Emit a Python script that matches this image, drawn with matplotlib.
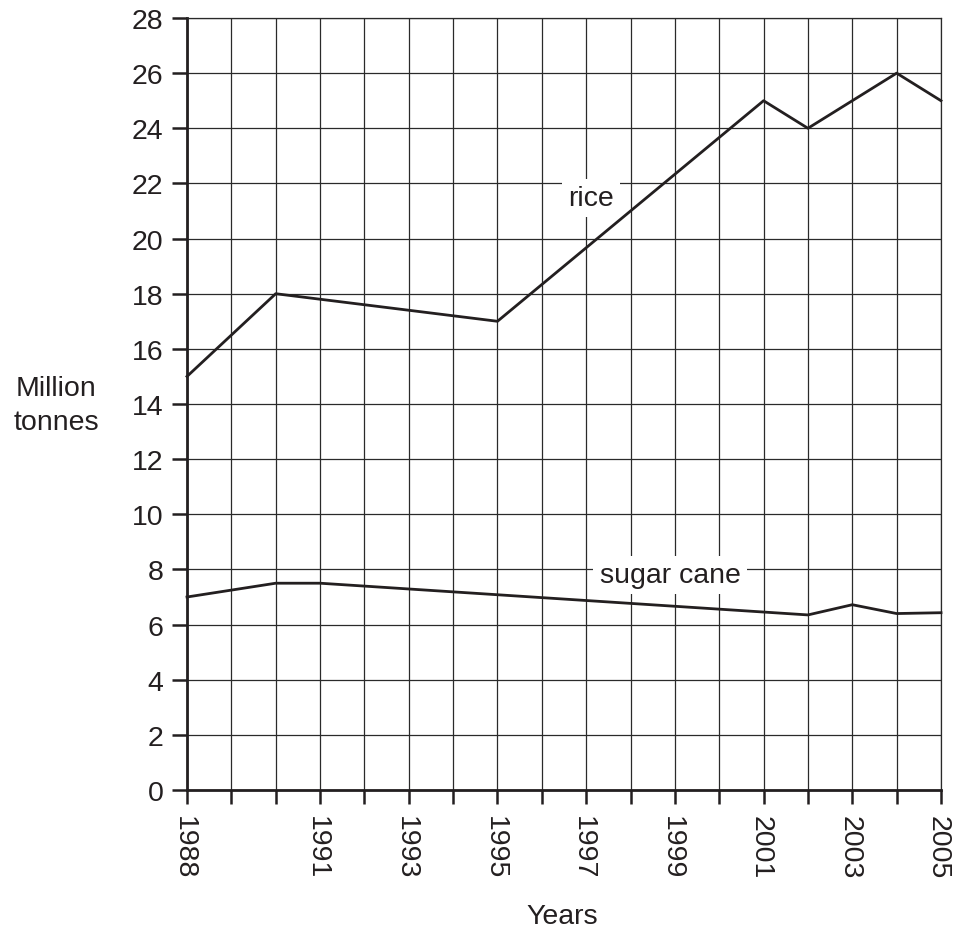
import numpy as np
import matplotlib
matplotlib.use('Agg')
import matplotlib.pyplot as plt
import matplotlib.transforms as mtransforms

plt.rcParams['font.family'] = ['Liberation Sans', 'DejaVu Sans']

# ── Data ──
years = list(range(1988, 2006))
labelled_years = [1988, 1991, 1993, 1995, 1997, 1999, 2001, 2003, 2005]

rice_years = [1988, 1990, 1995, 2001, 2002, 2003, 2004, 2005]
rice_values = [15, 18, 17, 25, 24, 25, 26, 25]

sugar_years = [1988, 1990, 1991, 2002, 2003, 2004, 2005]
sugar_values = [7.0, 7.5, 7.5, 6.35, 6.72, 6.4, 6.43]

y_ticks = list(range(0, 29, 2))

ink = '#231f20'
grid_col = '#2a2a2a'
fs = 20.5

fig = plt.figure(figsize=(9.59, 9.29), dpi=100)
ax = fig.add_axes([187 / 959, 1 - 791 / 929, (941 - 187) / 959, (791 - 19) / 929])

ax.plot(rice_years, rice_values, color=ink, linewidth=2.0, zorder=3, clip_on=False)
ax.plot(sugar_years, sugar_values, color=ink, linewidth=2.0, zorder=3, clip_on=False)

ax.set_xlim(1988, 2005)
ax.set_ylim(0, 28)
ax.set_xticks(years)
ax.set_xticklabels([str(y) if y in labelled_years else '' for y in years],
                   rotation=270, fontsize=fs, color=ink)
ax.set_yticks(y_ticks)
ax.set_yticklabels([str(v) for v in y_ticks], fontsize=fs, color=ink)
ax.tick_params(axis='x', length=10, width=1.8, pad=8, color=ink)
ax.tick_params(axis='y', length=11, width=1.8, pad=6, color=ink)

# rotated labels carry the font descent on their left side: nudge them back onto the tick
shift = mtransforms.ScaledTranslation(-3 / 100, 0, fig.dpi_scale_trans)
for lbl in ax.get_xticklabels():
    lbl.set_transform(lbl.get_transform() + shift)

ax.grid(True, color=grid_col, linewidth=0.9)
ax.set_axisbelow(True)
for side in ['top', 'right']:
    ax.spines[side].set_color(grid_col)
    ax.spines[side].set_linewidth(0.9)
for side in ['left', 'bottom']:
    ax.spines[side].set_color(ink)
    ax.spines[side].set_linewidth(2.0)

# series labels (white box hides the grid behind them)
box = dict(boxstyle='square,pad=0.22', facecolor='white', edgecolor='none')
ax.text(1997.11, 21.22, 'rice', fontsize=fs, color=ink, ha='center', va='baseline',
        zorder=4, bbox=box)
ax.text(1998.89, 7.54, 'sugar cane', fontsize=fs, color=ink, ha='center', va='baseline',
        zorder=4, bbox=box)

fig.text(56 / 959, 1 - 396 / 929, 'Million', fontsize=fs, color=ink,
         ha='center', va='baseline')
fig.text(56 / 959, 1 - 430 / 929, 'tonnes', fontsize=fs, color=ink,
         ha='center', va='baseline')
fig.text(562 / 959, 1 - 924 / 929, 'Years', fontsize=fs, color=ink,
         ha='center', va='baseline')

fig.savefig('out.png', dpi=100, facecolor='white')
